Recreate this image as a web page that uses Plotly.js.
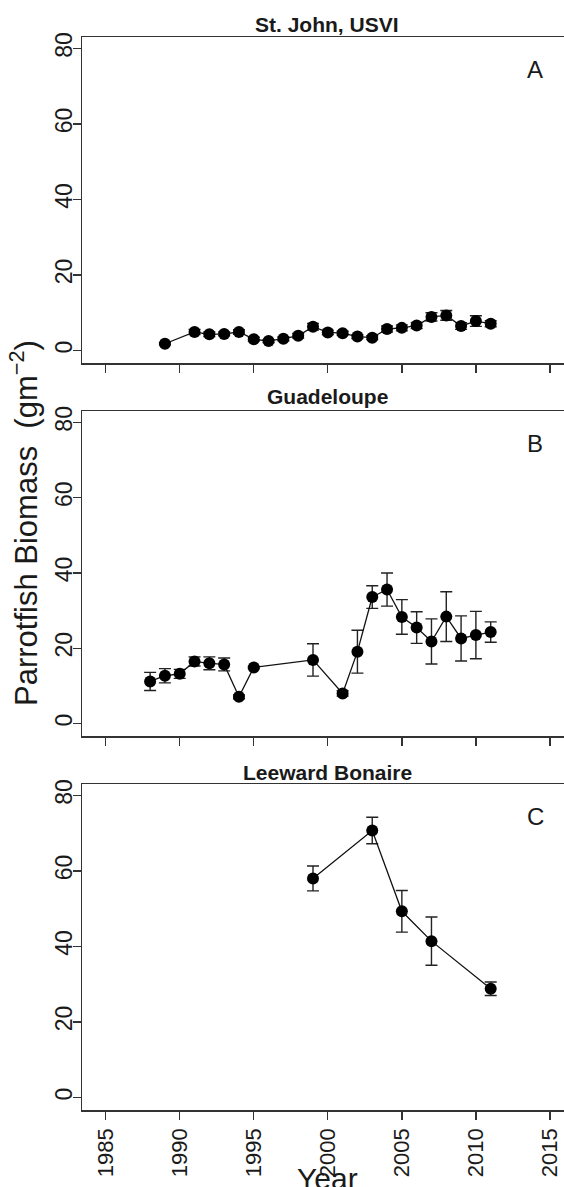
<!DOCTYPE html>
<html>
<head>
<meta charset="utf-8">
<script src="https://cdn.plot.ly/plotly-3.0.1.min.js"></script>
<style>html,body{margin:0;padding:0;background:#fff;}#plot{width:564px;height:1187px;}</style>
</head>
<body>
<div id="plot"></div>
<script>
// Panel A: St. John, USVI
const yearsA = [1989,1991,1992,1993,1994,1995,1996,1997,1998,1999,2000,2001,2002,2003,2004,2005,2006,2007,2008,2009,2010,2011];
const biomassA = [1.8,4.9,4.3,4.4,4.9,3.0,2.5,3.1,3.9,6.3,4.8,4.6,3.7,3.4,5.7,6.0,6.6,8.9,9.3,6.5,7.8,7.1];
const errA = [0.3,0.7,0.6,0.5,0.6,0.5,0.4,0.5,0.6,0.9,0.6,0.5,0.5,0.5,0.8,0.8,0.8,1.1,1.3,0.9,1.4,0.8];

// Panel B: Guadeloupe
const yearsB = [1988,1989,1990,1991,1992,1993,1994,1995,1999,2001,2002,2003,2004,2005,2006,2007,2008,2009,2010,2011];
const biomassB = [11.2,12.7,13.2,16.5,16.0,15.7,7.1,14.9,16.9,8.0,19.1,33.6,35.6,28.3,25.5,21.8,28.4,22.6,23.5,24.3];
const errB = [2.4,1.9,1.2,1.2,1.7,1.7,0.5,0.3,4.3,0.7,5.7,3.0,4.4,4.6,4.2,6.0,6.6,6.0,6.3,2.7];

// Panel C: Leeward Bonaire
const yearsC = [1999,2003,2005,2007,2011];
const biomassC = [58.0,70.7,49.3,41.4,28.8];
const errC = [3.3,3.5,5.5,6.4,1.8];

const panelTitles = ["St. John, USVI","Guadeloupe","Leeward Bonaire"];
const panelLetters = ["A","B","C"];
const xTicks = [1985,1990,1995,2000,2005,2010,2015];
const yTicks = [0,20,40,60,80];

const FONT = "Liberation Sans, Arial, Helvetica, sans-serif";
const INK = "#1a1a1a";
const AX = "#333333";

function trace(x, y, e, xa, ya) {
  return {
    x: x, y: y, xaxis: xa, yaxis: ya, type: "scatter", mode: "lines+markers",
    line: {color: "#111", width: 1.3},
    marker: {color: "#000", size: 12},
    error_y: {type: "data", array: e, visible: true, color: "#222", thickness: 1.4, width: 6},
    showlegend: false, hoverinfo: "skip"
  };
}

const data = [
  trace(yearsA, biomassA, errA, "x", "y"),
  trace(yearsB, biomassB, errB, "x2", "y2"),
  trace(yearsC, biomassC, errC, "x3", "y3")
];

const xRange = [1983.4, 2015.95];
const yRange = [-3.3, 83.0];

function xaxis(anchor, showLabels) {
  return {
    anchor: anchor, domain: [0, 1], range: xRange, tickvals: xTicks,
    ticktext: xTicks.map(String), showticklabels: showLabels,
    ticks: "outside", ticklen: 8, tickwidth: 1.3, tickcolor: AX,
    showline: true, linecolor: AX, linewidth: 1.5, mirror: true,
    showgrid: false, zeroline: false, tickangle: -90,
    tickfont: {family: FONT, size: 22, color: INK}
  };
}
function yaxis(anchor, dom) {
  return {
    anchor: anchor, domain: dom, range: yRange, tickvals: yTicks,
    ticktext: yTicks.map(String),
    ticks: "outside", ticklen: 8, tickwidth: 1.3, tickcolor: AX,
    showline: true, linecolor: AX, linewidth: 1.5, mirror: false,
    showgrid: false, zeroline: false, tickangle: -90, ticklabelstandoff: -9,
    tickfont: {family: FONT, size: 23, color: INK}
  };
}

const H = 1073; // plot area height in px
const domA = [(1110-363)/H, 1];
const domB = [(1110-736)/H, (1110-411)/H];
const domC = [0, (1110-784)/H];

const annotations = [];
const titleY = [24, 396, 772];
const yrefs = ["y", "y2", "y3"];
const xrefs = ["x", "x2", "x3"];
for (let i = 0; i < 3; i++) {
  annotations.push({
    text: "<b>" + panelTitles[i] + "</b>", xref: "paper", yref: "paper",
    x: (327-82)/482, y: (1110 - titleY[i]) / H, xanchor: "center", yanchor: "middle",
    showarrow: false, font: {family: FONT, size: 21, color: INK}
  });
  annotations.push({
    text: panelLetters[i], xref: xrefs[i] + " domain", yref: yrefs[i] + " domain",
    x: 0.94, y: 0.90, xanchor: "center", yanchor: "middle",
    showarrow: false, font: {family: FONT, size: 24, color: INK}
  });
}
annotations.push({
  text: "Parrotfish Biomass  (gm<sup>−2</sup>)", xref: "paper", yref: "paper",
  x: (24-82)/482, y: (1110-523)/H, xanchor: "center", yanchor: "middle", textangle: -90,
  showarrow: false, font: {family: FONT, size: 31, color: INK}
});
annotations.push({
  text: "Year", xref: "x3", yref: "paper",
  x: 2000, y: (1110-1160)/H, xanchor: "center", yanchor: "top",
  showarrow: false, font: {family: FONT, size: 30, color: INK}
});

const layout = {
  width: 564, height: 1187,
  margin: {l: 82, r: 0, t: 37, b: 77},
  paper_bgcolor: "#fff", plot_bgcolor: "#fff",
  xaxis: xaxis("y", false),
  xaxis2: xaxis("y2", false),
  xaxis3: xaxis("y3", true),
  yaxis: yaxis("x", domA),
  yaxis2: yaxis("x2", domB),
  yaxis3: yaxis("x3", domC),
  annotations: annotations,
  font: {family: FONT, color: INK}
};

Plotly.newPlot("plot", data, layout, {staticPlot: true, displayModeBar: false});
</script>
</body>
</html>
